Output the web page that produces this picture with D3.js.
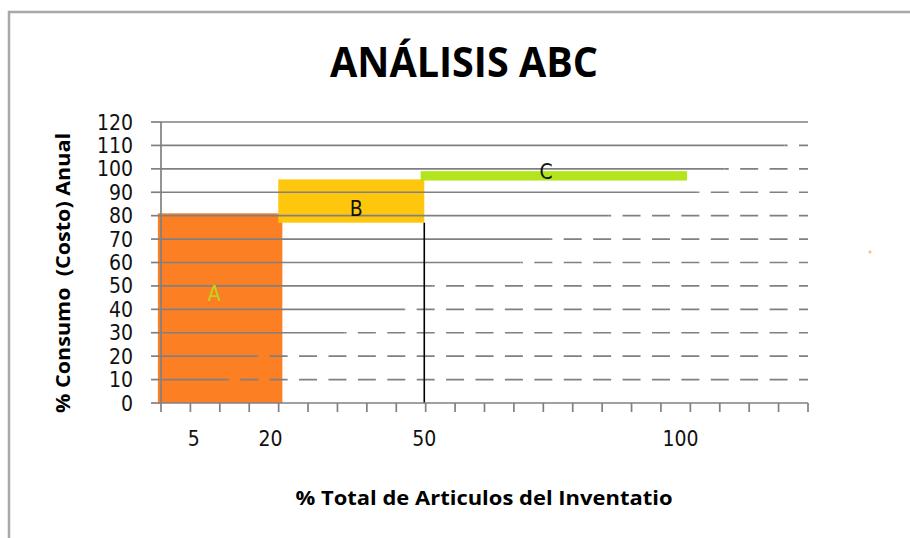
<!DOCTYPE html>
<html>
<head>
<meta charset="utf-8">
<title>ANÁLISIS ABC</title>
<style>
  body { margin: 0; background: #fff; }
  svg { display: block; }
  .tick-label { font-family: "DejaVu Sans Condensed", "DejaVu Sans", sans-serif; font-size: 21px; fill: #111; }
  .title { font-family: "Open Sans", sans-serif; font-weight: 700; }
</style>
<script src="https://cdn.jsdelivr.net/npm/d3@7"></script>
</head>
<body>
<svg id="chart" width="910" height="538"></svg>
<script>
// datos del análisis ABC
var classes      = ["A", "B", "C"];
var pctItemsFrom = [-2, 21.5, 49.3];     // % total de artículos (inicio)
var pctItemsTo   = [22.3, 50, 101.3];    // % total de artículos (fin)
var pctCostFrom  = [0, 77, 95];          // % consumo anual (inicio)
var pctCostTo    = [81, 95.5, 99];       // % consumo anual (fin)
var labelAtItems = [9, 36.7, 73.8];      // dónde va la letra de cada clase
var labelAtCost  = [47, 83, 98.8];
var classColors  = ["#fd7f24", "#ffc60e", "#b3e41c"];
var classLabelColors = ["#bcd41c", "#111", "#111"];

var yTicks = [0, 10, 20, 30, 40, 50, 60, 70, 80, 90, 100, 110, 120];
var xTickLabels = [5, 20, 50, 100];
var cutoff = 50;    // línea vertical
// hasta dónde la línea de cuadrícula es continua (el resto es discontinua)
var gridSolidTo = [11.7, 17.2, 34.4, 46.1, 51.6, 68.8, 74.6, 85.9, 103.3, 108.6, 120.3, 125];

var svg = d3.select("#chart");

var x = d3.scaleLinear().domain([-1.39, 124.9]).range([161, 808]);
var y = d3.scaleLinear().domain([0, 120]).range([403, 122]);
var xMin = x.domain()[0], xMax = x.domain()[1];
var step = (x(xMax) - x(xMin)) / 22;
var gridColor = "#808080";

// borde del gráfico
svg.append("path")
  .attr("d", "M9,538 V12 H910")
  .attr("fill", "none")
  .attr("stroke", "#a8a8a8")
  .attr("stroke-width", 2.5);

// barras
var bars = classes.map(function(c, i) {
  return { name: c, x0: pctItemsFrom[i], x1: pctItemsTo[i], y0: pctCostFrom[i], y1: pctCostTo[i],
           lx: labelAtItems[i], ly: labelAtCost[i],
           color: classColors[i], labelColor: classLabelColors[i] };
});

svg.append("g").selectAll("rect")
  .data(bars)
  .enter().append("rect")
  .attr("x", function(d) { return x(d.x0); })
  .attr("y", function(d) { return y(d.y1); })
  .attr("width", function(d) { return x(d.x1) - x(d.x0); })
  .attr("height", function(d) { return y(d.y0) - y(d.y1); })
  .attr("fill", function(d) { return d.color; });

// cuadrícula: tramo continuo + tramo discontinuo (guiones centrados en las marcas)
var grid = svg.append("g").attr("stroke", gridColor).attr("stroke-width", 1.7);
yTicks.slice(1).forEach(function(v, i) {
  var solidEnd = Math.min(x(gridSolidTo[i]), x(xMax));
  grid.append("line")
    .attr("x1", x(xMin)).attr("x2", solidEnd)
    .attr("y1", y(v)).attr("y2", y(v));
  if (solidEnd < x(xMax)) {
    grid.append("line")
      .attr("x1", solidEnd).attr("x2", x(xMax))
      .attr("y1", y(v)).attr("y2", y(v))
      .attr("stroke-dasharray", "18," + (step - 18))
      .attr("stroke-dashoffset", 9 + (solidEnd - x(xMin)));
  }
});

// línea vertical en 50 %
svg.append("line")
  .attr("x1", x(cutoff)).attr("x2", x(cutoff))
  .attr("y1", y(0)).attr("y2", y(pctCostFrom[1]))
  .attr("stroke", "#000").attr("stroke-width", 1.6);

// ejes
var axisG = svg.append("g").attr("stroke", gridColor).attr("stroke-width", 1.7);
axisG.append("line")
  .attr("x1", x(xMin)).attr("x2", x(xMin))
  .attr("y1", y(0)).attr("y2", y(120));
axisG.selectAll(".yt")
  .data(yTicks)
  .enter().append("line")
  .attr("x1", x(xMin) - 10).attr("x2", x(xMin))
  .attr("y1", function(d) { return y(d); })
  .attr("y2", function(d) { return y(d); });

axisG.append("line")
  .attr("x1", x(xMin)).attr("x2", x(xMax))
  .attr("y1", y(0)).attr("y2", y(0));
axisG.selectAll(".xt")
  .data(d3.range(23))
  .enter().append("line")
  .attr("x1", function(i) { return x(xMin) + i * step; })
  .attr("x2", function(i) { return x(xMin) + i * step; })
  .attr("y1", y(0)).attr("y2", y(0) + 9);

svg.append("g").selectAll("text")
  .data(yTicks)
  .enter().append("text")
  .attr("class", "tick-label")
  .attr("x", 133)
  .attr("y", function(d) { return y(d); })
  .attr("dy", "0.36em")
  .attr("text-anchor", "end")
  .text(function(d) { return d; });

svg.append("g").selectAll("text")
  .data(xTickLabels)
  .enter().append("text")
  .attr("class", "tick-label")
  .attr("x", function(d) { return x(d); })
  .attr("y", 446)
  .attr("text-anchor", "middle")
  .text(function(d) { return d; });

// letras de clase
svg.append("g").selectAll("text")
  .data(bars)
  .enter().append("text")
  .attr("class", "tick-label")
  .attr("x", function(d) { return x(d.lx); })
  .attr("y", function(d) { return y(d.ly); })
  .attr("dy", "0.36em")
  .attr("text-anchor", "middle")
  .style("fill", function(d) { return d.labelColor; })
  .text(function(d) { return d.name; });

// títulos
svg.append("text")
  .attr("class", "title")
  .attr("x", 464).attr("y", 77)
  .attr("text-anchor", "middle")
  .attr("font-size", 42)
  .attr("textLength", 268).attr("lengthAdjust", "spacingAndGlyphs")
  .text("ANÁLISIS ABC");

svg.append("text")
  .attr("class", "title")
  .attr("x", 484).attr("y", 505)
  .attr("text-anchor", "middle")
  .attr("font-size", 19)
  .attr("textLength", 377).attr("lengthAdjust", "spacingAndGlyphs")
  .text("% Total de Articulos del Inventatio");

svg.append("text")
  .attr("class", "title")
  .attr("transform", "translate(70,273) rotate(-90)")
  .attr("text-anchor", "middle")
  .attr("font-size", 19)
  .attr("textLength", 280).attr("lengthAdjust", "spacingAndGlyphs")
  .style("white-space", "pre")
  .text("% Consumo  (Costo) Anual");

// pequeño punto suelto a la derecha
svg.append("circle")
  .attr("cx", 870).attr("cy", 252).attr("r", 1.5)
  .attr("fill", "#ffa040").attr("opacity", 0.7);
</script>
</body>
</html>
